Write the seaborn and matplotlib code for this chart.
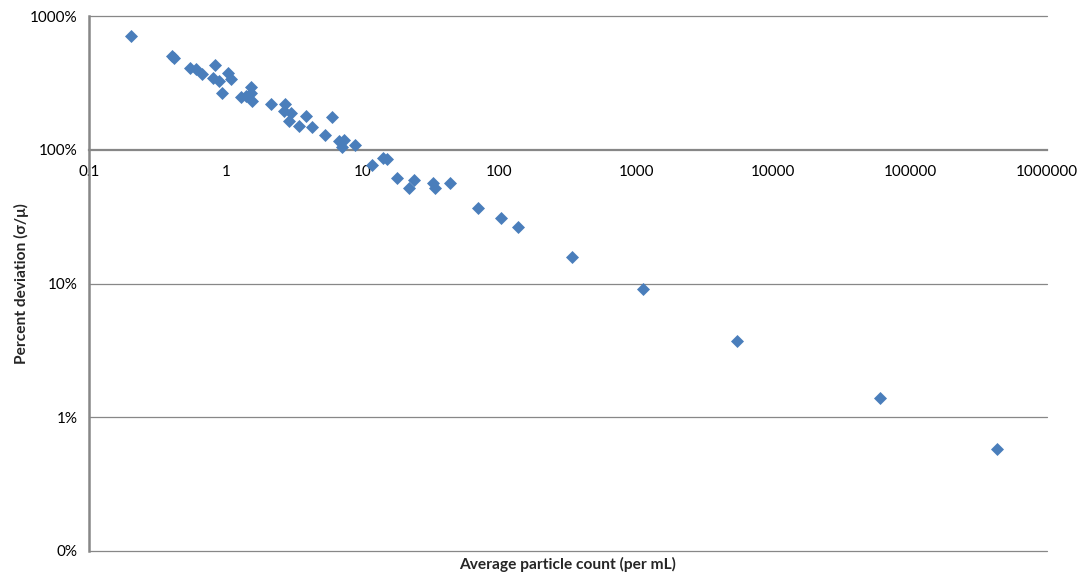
import numpy as np
import pandas as pd
import matplotlib
matplotlib.use("Agg")
import matplotlib.pyplot as plt
import seaborn as sns
from matplotlib.ticker import FixedLocator, FixedFormatter, NullLocator

# ---- data ----
avg_count = [0.203, 0.404, 0.42, 0.547, 0.605, 0.668, 0.832, 0.80, 0.89, 0.937,
             1.03, 1.09, 1.29, 1.41, 1.53, 1.53, 1.55, 2.13, 2.70, 2.66,
             3.0, 2.88, 3.42, 3.85, 4.27, 5.29, 5.97, 6.70, 7.3, 7.0,
             8.77, 11.7, 14.1, 15.0, 17.8, 21.7, 23.6, 32.6, 33.7, 43.4,
             69.5, 102, 136, 337, 1114, 5408, 59970, 429000]
pct_dev = [712, 505, 488, 410, 404, 370, 432, 345, 328, 267,
           376, 340, 249, 253, 296, 267, 232, 221, 221, 195,
           189, 165, 151, 179, 149, 129, 176, 117, 119, 105,
           109, 77, 87, 86, 61.8, 52, 59.7, 56.7, 52, 56.7,
           36.8, 31.0, 26.6, 15.8, 9.1, 3.73, 1.39, 0.58]

x_ticks = [0.1, 1, 10, 100, 1000, 10000, 100000, 1000000]
x_tick_labels = ["0.1", "1", "10", "100", "1000", "10000", "100000", "1000000"]
y_ticks = [0.1, 1, 10, 100, 1000]
y_tick_labels = ["0%", "1%", "10%", "100%", "1000%"]

x_title = "Average particle count (per mL)"
y_title = "Percent deviation (\u03c3/\u03bc)"

df = pd.DataFrame({"count": avg_count, "dev": pct_dev})

sns.set_style("white")
plt.rcParams["font.family"] = ["Lato", "DejaVu Sans"]

fig = plt.figure(figsize=(10.82, 5.76), dpi=100)
ax = fig.add_axes([89 / 1082, 1 - 551 / 576, (1047 - 89) / 1082, (551 - 16) / 576])

grid_col = "#878787"
ax.set_xscale("log")
ax.set_yscale("log")
ax.set_xlim(0.1, 1000000)
ax.set_ylim(0.1, 1000)

for yv in y_ticks:
    if yv != 100:
        ax.axhline(yv, color=grid_col, lw=0.9, zorder=1, clip_on=False)

sns.scatterplot(data=df, x="count", y="dev", marker="D", color="#4A7EBB",
                s=44, linewidth=0, ax=ax, zorder=3, clip_on=False)

ax.xaxis.set_major_locator(FixedLocator(x_ticks))
ax.xaxis.set_major_formatter(FixedFormatter(x_tick_labels))
ax.xaxis.set_minor_locator(NullLocator())
ax.yaxis.set_major_locator(FixedLocator(y_ticks))
ax.yaxis.set_major_formatter(FixedFormatter(y_tick_labels))
ax.yaxis.set_minor_locator(NullLocator())

for s in ["top", "right"]:
    ax.spines[s].set_visible(False)
ax.spines["bottom"].set_position(("data", 100))
ax.spines["bottom"].set_color(grid_col)
ax.spines["bottom"].set_linewidth(1.6)
ax.spines["left"].set_color(grid_col)
ax.spines["left"].set_linewidth(1.8)

ax.tick_params(axis="x", which="major", direction="out", length=4, width=1,
               color=grid_col, labelsize=11, pad=7, labelcolor="black")
ax.tick_params(axis="y", which="major", direction="out", length=4, width=1,
               color=grid_col, labelsize=11, pad=4, labelcolor="black")

ax.set_xlabel(x_title, fontsize=11.2, fontweight="bold")
ax.set_ylabel(y_title, fontsize=11.2, fontweight="bold")
ax.xaxis.set_label_coords(0.5, -0.012)
ax.yaxis.set_label_coords(-0.063, 0.5)

fig.savefig("out.png", dpi=100)
